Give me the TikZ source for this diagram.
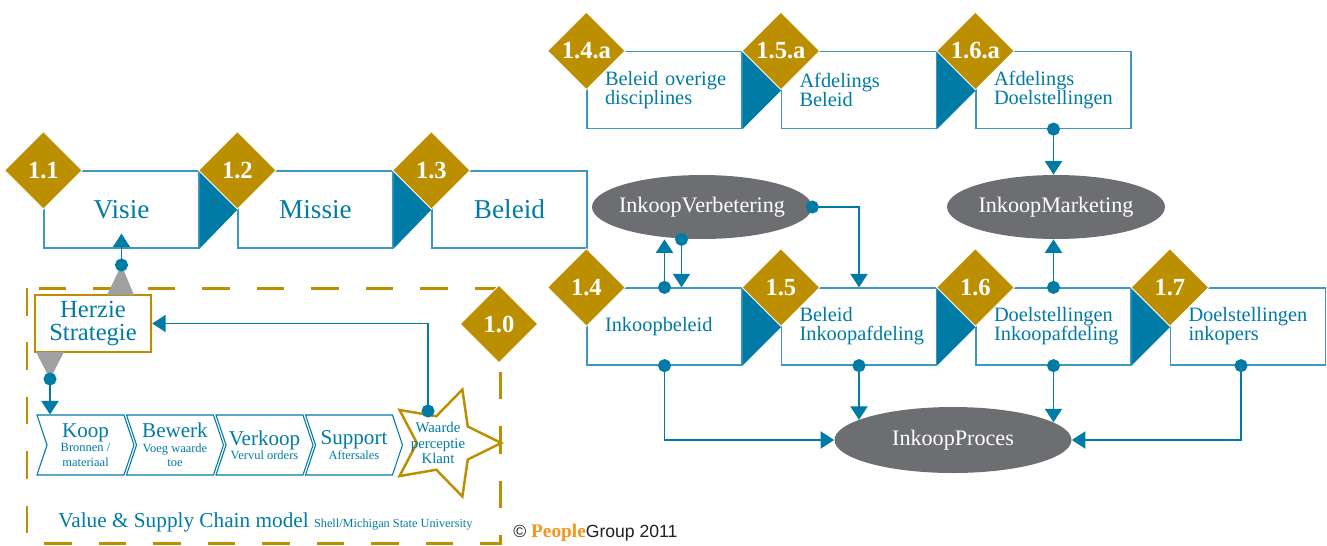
\documentclass[tikz,border=0pt]{standalone}
\usepackage{fontspec}
\setmainfont{Liberation Serif}
\setsansfont{Liberation Sans}
\usetikzlibrary{arrows.meta,positioning,shapes.geometric,shapes.symbols}

\definecolor{chainblue}{RGB}{0,123,166}
\definecolor{boxline}{RGB}{60,152,194}
\definecolor{gold}{RGB}{188,143,0}
\definecolor{ovalgray}{RGB}{109,110,113}
\definecolor{wedgegray}{RGB}{160,160,162}
\definecolor{pgorange}{RGB}{247,148,30}
\definecolor{copygray}{RGB}{35,31,32}

\newcommand{\setfs}[2]{\fontsize{#1}{#2}\selectfont}

\begin{document}
\begin{tikzpicture}[
  x=0.02cm, y=-0.02cm,
  >={Triangle[length=0.27cm,width=0.34cm]},
  stepbox/.style={draw=boxline, line width=0.7pt, fill=white,
    minimum width=3.1cm, minimum height=1.54cm, inner sep=0pt,
    text=chainblue},
  bigbox/.style={stepbox, font=\setfs{15.5}{18}},
  txtbox/.style={stepbox, text width=2.38cm, inner xsep=0.36cm,
    align=left, font={\setfs{11.6}{10.9}\lineskiplimit=-5pt\hyphenpenalty=10000}},
  num/.style={diamond, fill=gold, draw=white, line width=0.5pt,
    minimum width=1.56cm, minimum height=1.56cm, inner sep=0pt,
    text=white, font=\bfseries\setfs{14}{14}},
  tri/.style={fill=chainblue},
  oval/.style={ellipse, fill=ovalgray, text=white, inner sep=0pt,
    inner xsep=-0.3cm, minimum height=1.28cm, font=\setfs{12.6}{14}},
  conn/.style={draw=chainblue, line width=1.1pt,
    {Circle[length=0.26cm]}->, shorten <=-0.13cm},
  chain/.style={signal, signal from=west, signal to=east,
    signal pointer angle=143, draw=chainblue, line width=0.6pt,
    fill=white, minimum width=1.94cm, minimum height=1.2cm,
    inner sep=0pt, text=chainblue, align=center,
    font={\setfs{12}{8.2}\lineskiplimit=-5pt}}
]
  \useasboundingbox (0,0) rectangle (1327,545);

  % Strategy row: vision, mission, policy
  \node[bigbox] (visie)  at (121.5,209.5) {Visie};
  \node[bigbox] (missie) at (315.5,209.5) {Missie};
  \node[bigbox] (beleid) at (509.5,209.5) {Beleid};

  % Department row (a-level)
  \node[txtbox] (overig)  at (664.5,90)  {Beleid~overige\\disciplines};
  \node[txtbox] (afdbel)  at (859,90)    {Afdelings\\Beleid};
  \node[txtbox] (afddoel) at (1053.5,90) {Afdelings\\Doelstellingen};

  % Purchasing row
  \node[txtbox] (inkbel)  at (664.5,326.5)  {Inkoopbeleid};
  \node[txtbox] (belafd)  at (859,326.5)    {Beleid\\Inkoopafdeling};
  \node[txtbox] (doelafd) at (1053.5,326.5) {Doelstellingen\\Inkoopafdeling};
  \node[txtbox] (doelink) at (1248,326.5)   {Doelstellingen\\inkopers};

  % Chevron tips between the boxes
  \fill[tri] (visie.north east) -- ([xshift=0.76cm]visie.east) -- (visie.south east) -- cycle;
  \fill[tri] (missie.north east) -- ([xshift=0.76cm]missie.east) -- (missie.south east) -- cycle;
  \fill[tri] (overig.north east) -- ([xshift=0.78cm]overig.east) -- (overig.south east) -- cycle;
  \fill[tri] (afdbel.north east) -- ([xshift=0.78cm]afdbel.east) -- (afdbel.south east) -- cycle;
  \fill[tri] (inkbel.north east) -- ([xshift=0.78cm]inkbel.east) -- (inkbel.south east) -- cycle;
  \fill[tri] (belafd.north east) -- ([xshift=0.78cm]belafd.east) -- (belafd.south east) -- cycle;
  \fill[tri] (doelafd.north east) -- ([xshift=0.78cm]doelafd.east) -- (doelafd.south east) -- cycle;

  % Step numbers
  \node[num] (n11)  at (visie.north west)   {1.1};
  \node[num] (n12)  at (missie.north west)  {1.2};
  \node[num] (n13)  at (beleid.north west)  {1.3};
  \node[num] (n14a) at (overig.north west)  {1.4.a};
  \node[num] (n15a) at (afdbel.north west)  {1.5.a};
  \node[num] (n16a) at (afddoel.north west) {1.6.a};
  \node[num] (n14)  at (inkbel.north west)  {1.4};
  \node[num] (n15)  at (belafd.north west)  {1.5};
  \node[num] (n16)  at (doelafd.north west) {1.6};
  \node[num] (n17)  at (doelink.north west) {1.7};

  % Process ovals
  \node[oval, minimum width=4.4cm]  (verbeter)  at (702,207)  {InkoopVerbetering};
  \node[oval, minimum width=4.36cm] (marketing) at (1056,207) {InkoopMarketing};
  \node[oval, minimum width=4.74cm, minimum height=1.32cm] (proces) at (953,440) {InkoopProces};

  % Improvement loop
  \coordinate (vdown) at ([xshift=0.34cm]inkbel.north);
  \draw[conn] (inkbel.north) -- (inkbel.north |- verbeter.south);
  \draw[conn] (vdown |- verbeter.south) -- (vdown);
  \draw[conn] (verbeter.east) -| (belafd.north);

  % Marketing
  \draw[conn] (afddoel.south) -- (afddoel.south |- marketing.north);
  \draw[conn] (doelafd.north) -- (doelafd.north |- marketing.south);

  % Everything feeds the purchasing process
  \draw[conn] (inkbel.south) |- (proces.west);
  \draw[conn] (belafd.south) -- (belafd.south |- proces.168);
  \draw[conn] (doelafd.south) -- (doelafd.south |- proces.10);
  \draw[conn] ([xshift=-0.14cm]doelink.south) |- (proces.east);

  % Value & supply chain block
  \draw[gold, line width=1.7pt, dash pattern=on 0.55cm off 0.54cm] (27,288) rectangle (500,543);
  \node[num] (n10) at (499,324) {1.0};

  \node[draw=gold, line width=1.4pt, fill=white, minimum width=2.32cm,
    minimum height=1.14cm, inner sep=0pt, align=center, text=chainblue,
    font=\setfs{14}{13.6}] (herzie) at (93,323.5) {Herzie\\Strategie};

  \node[chain] (koop)    at (85.5,445) {Koop\\{\setfs{7.1}{8.2}Bronnen /}\\{\setfs{7.1}{8.2}materiaal}};
  \node[chain] (bewerk)  at (175,445)  {Bewerk\\{\setfs{7.1}{8.2}Voeg waarde}\\{\setfs{7.1}{8.2}toe}};
  \node[chain] (verkoop) at (264.5,445) {Verkoop\\{\setfs{7.1}{8.2}Vervul orders}};
  \node[chain] (support) at (354,445)  {Support\\{\setfs{7.1}{8.2}Aftersales}};

  \node[star, star points=5, star point ratio=2, shape border rotate=-90,
    draw=gold, line width=1.4pt, fill=white, minimum size=2.25cm, inner sep=0pt,
    label={[align=center, text=chainblue, font=\setfs{8.4}{8.8}, xshift=-0.14cm]center:Waarde\\perceptie\\Klant}]
    (klant) at (445,443) {};

  \coordinate (hzup) at (121.5,265);
  \coordinate (hzdown) at (50,379);
  \fill[wedgegray] (107,295) -- (134,295) -- (hzup) -- cycle;
  \fill[wedgegray] (36,352) -- (64,352) -- (hzdown) -- cycle;
  \draw[conn] (hzup) -- ([yshift=0.3cm]visie.south);
  \draw[conn] (hzdown) -- (hzdown |- koop.north);
  \draw[conn] ([xshift=-0.34cm,yshift=0.64cm]klant.center) |- (herzie.east);

  \node[anchor=base west, inner sep=0pt, text=chainblue, font=\setfs{12.1}{14}] (vscm) at (58,527)
    {Value \& Supply Chain model {\setfs{7}{8}Shell/Michigan State University}};

  \node[anchor=base west, inner sep=0pt, text=copygray, font=\sffamily\setfs{10}{11}] (copy) at (513,537)
    {\textcopyright\ {\rmfamily\bfseries\setfs{11}{11}\color{pgorange}People}Group 2011};

\end{tikzpicture}
\end{document}
